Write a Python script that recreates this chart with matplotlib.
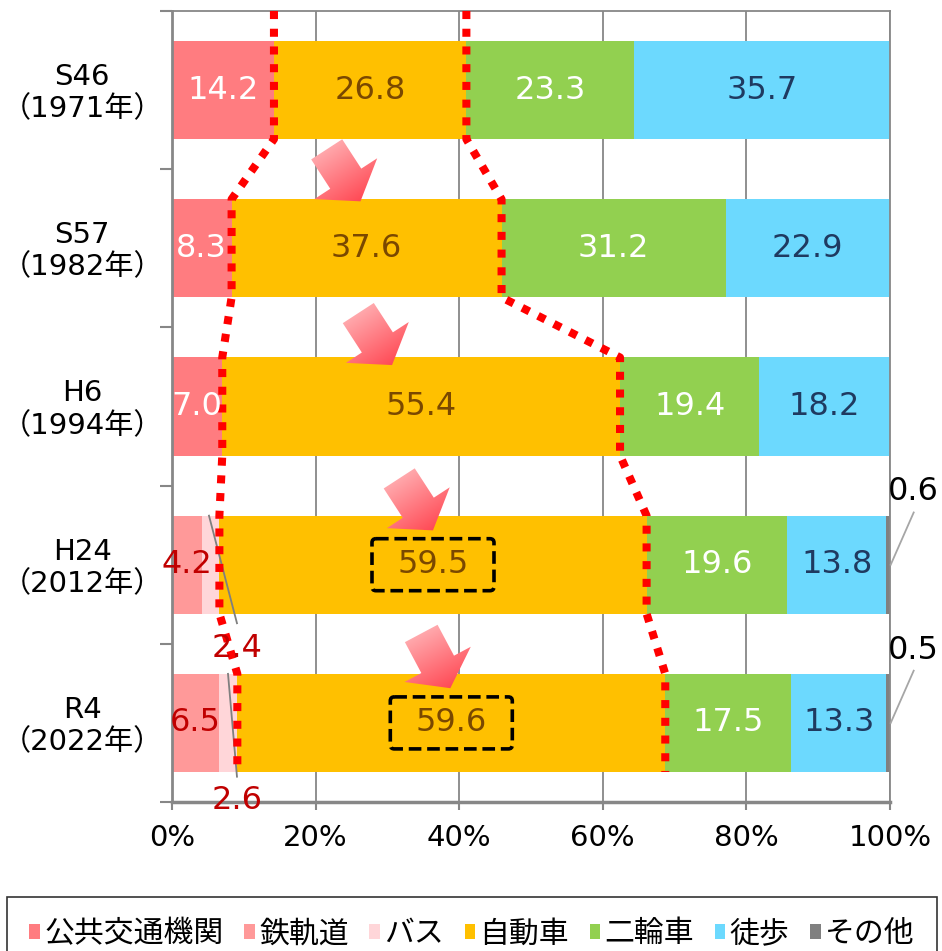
import matplotlib
matplotlib.use("Agg")
import matplotlib.pyplot as plt
import numpy as np
from matplotlib.patches import Patch, Polygon, FancyBboxPatch
from matplotlib.colors import LinearSegmentedColormap
import matplotlib.transforms as mtransforms

plt.rcParams["font.family"] = ["DejaVu Sans", "Noto Sans CJK JP"]

# data (%)
years = ["S46\n（1971年）", "S57\n（1982年）", "H6\n（1994年）", "H24\n（2012年）", "R4\n（2022年）"]
public = [14.2, 8.3, 7.0, 0, 0]
rail = [0, 0, 0, 4.2, 6.5]
bus = [0, 0, 0, 2.4, 2.6]
car = [26.8, 37.6, 55.4, 59.5, 59.6]
two_wheel = [23.3, 31.2, 19.4, 19.6, 17.5]
walk = [35.7, 22.9, 18.2, 13.8, 13.3]
other = [0, 0, 0, 0.6, 0.5]

names = ["公共交通機関", "鉄軌道", "バス", "自動車", "二輪車", "徒歩", "その他"]
colors = ["#FF7C80", "#FF9999", "#FFD6D9", "#FFC000", "#92D050", "#6CD9FE", "#808080"]
text_colors = ["white", "#C00000", None, "#7A4800", "white", "#1F3A60", None]

# decoration: arrow anchor points (x %, y category units)
arrow_pos = [(24.2, 0.56), (28.6, 1.595), (34.3, 2.64), (37.0, 3.63)]
arrow_angle = [57, 57, 57, 62]
boxed_rows = [3, 4]

W, H = 942, 951
fig = plt.figure(figsize=(W / 100, H / 100), dpi=100)
ax = fig.add_axes([172 / W, 1 - 802 / H, 718 / W, 791 / H])

series = [public, rail, bus, car, two_wheel, walk, other]
y = np.arange(len(years))
bh = 0.62
left = np.zeros(len(years))
lefts = []
for vals, col in zip(series, colors):
    vals = np.array(vals, dtype=float)
    ax.barh(y, vals, left=left, height=bh, color=col, zorder=2)
    lefts.append(left.copy())
    left = left + vals

fs = 23
for k, (vals, tc) in enumerate(zip(series, text_colors)):
    if tc is None:
        continue
    for i, v in enumerate(vals):
        if v <= 0:
            continue
        ax.text(lefts[k][i] + v / 2, i, f"{v:.1f}", ha="center", va="center",
                color=tc, fontsize=fs, zorder=6)

# bus labels with leaders
bus_lbl_y = [3.53, 4.49]
bus_leader = [((5.15, 2.69), (9.05, 3.37)), ((7.8, 3.69), (9.05, 4.34))]
for row, ly, (p0, p1) in zip([3, 4], bus_lbl_y, bus_leader):
    ax.plot([p0[0], p1[0]], [p0[1], p1[1]], color="#7F7F7F", lw=1.3, zorder=3, clip_on=False)
    ax.text(9.05, ly, f"{bus[row]:.1f}", ha="center", va="center", color="#C00000",
            fontsize=fs, zorder=6, clip_on=False)

# other labels with leaders
for row in [3, 4]:
    ax.plot([103.3, 100.1], [row - 0.33, row], color="#A6A6A6", lw=1.3, zorder=3, clip_on=False)
    ax.text(103.2, row - 0.46, f"{other[row]:.1f}", ha="center", va="center", color="black",
            fontsize=fs, zorder=6, clip_on=False)

# red dotted lines along car segment edges
car_left = lefts[3]
car_right = lefts[3] + np.array(car)
for edge in [car_left, car_right]:
    xs, ys = [edge[0]], [-0.5]
    for i, e in enumerate(edge):
        xs += [e, e]
        ys += [i - bh / 2, i + bh / 2]
    ax.plot(xs, ys, color="#FF0000", lw=5.8, linestyle=(0, (1, 1.2)),
            dash_capstyle="butt", zorder=5, clip_on=False)

# axes styling
ax.set_xlim(0, 100)
ax.set_ylim(len(years) - 0.5, -0.5)
ax.set_xticks(np.arange(0, 101, 20))
ax.set_xticklabels([f"{t}%" for t in range(0, 101, 20)], fontsize=21)
ax.set_yticks(np.arange(-0.5, len(years), 1.0))
ax.set_yticklabels([])
ax.tick_params(axis="y", length=9, width=1.5, color="#878787")
ax.tick_params(axis="x", length=6, width=1.5, color="#878787", pad=10)
ax.xaxis.grid(True, color="#878787", lw=1.3, zorder=0)
ax.set_axisbelow(True)
for s in ["top", "right"]:
    ax.spines[s].set_color("#878787")
    ax.spines[s].set_linewidth(1.3)
ax.spines["left"].set_color("#878787")
ax.spines["left"].set_linewidth(2)
ax.spines["bottom"].set_color("#878787")
ax.spines["bottom"].set_linewidth(2.5)

trans = mtransforms.blended_transform_factory(ax.transAxes, ax.transData)
for i, lab in enumerate(years):
    ax.text(-0.125, i + 0.02, lab, transform=trans, ha="center", va="center",
            fontsize=21, linespacing=1.2)

# overlay in pixel coordinates for arrows and dashed boxes
ov = fig.add_axes([0, 0, 1, 1])
ov.set_zorder(5)
ov.axis("off")


def to_px(xd, yd):
    dx, dy = ax.transData.transform((xd, yd))
    return dx, H - dy


cmap = LinearSegmentedColormap.from_list("pk", ["#FFA8AC", "#FF4A55"])
for (xd, yd), ang in zip(arrow_pos, arrow_angle):
    cx, cy = to_px(xd, yd)
    loc = np.array([(-35, -18.5), (0, -18.5), (0, -37.5), (27, 0), (0, 37.5), (0, 18.5), (-35, 18.5)])
    a = np.deg2rad(ang)
    d = np.array([np.cos(a), np.sin(a)])
    n = np.array([-np.sin(a), np.cos(a)])
    pts = np.array([cx, cy]) + loc[:, :1] * d + loc[:, 1:] * n
    poly = Polygon(pts, closed=True, facecolor="none", edgecolor="none")
    ov.add_patch(poly)
    x0, x1 = pts[:, 0].min() - 2, pts[:, 0].max() + 2
    y0, y1 = pts[:, 1].min() - 2, pts[:, 1].max() + 2
    gx, gy = np.meshgrid(np.linspace(x0, x1, 60), np.linspace(y0, y1, 60))
    g = (gx - cx) * d[0] + (gy - cy) * d[1]
    im = ov.imshow(g, extent=(x0, x1, y1, y0), origin="upper", cmap=cmap,
                   vmin=-35, vmax=27, aspect="auto", interpolation="bilinear")
    im.set_clip_path(poly)

for row in boxed_rows:
    cx, cy = to_px(car_left[row] + car[row] / 2, row)
    box = FancyBboxPatch((cx - 61, cy - 26), 122, 52,
                         boxstyle="round,pad=0,rounding_size=4",
                         facecolor="none", edgecolor="black", lw=2.6,
                         linestyle=(0, (3.5, 1.6)))
    ov.add_patch(box)

ov.set_xlim(0, W)
ov.set_ylim(H, 0)

handles = [Patch(facecolor=c, edgecolor="none") for c in colors]
fig.legend(handles, names, loc="upper left", ncol=7, mode="expand",
           bbox_to_anchor=(7 / W, 1 - 897 / H - 0.01, 930 / W, 0.01),
           borderaxespad=0, fontsize=21.5, frameon=True, fancybox=False,
           edgecolor="black", handlelength=0.35, handleheight=0.42,
           handletextpad=0.15, columnspacing=0.5, borderpad=0.75)
leg = fig.legends[0]
leg.get_frame().set_linewidth(1.2)

fig.savefig("out.png", dpi=100)
